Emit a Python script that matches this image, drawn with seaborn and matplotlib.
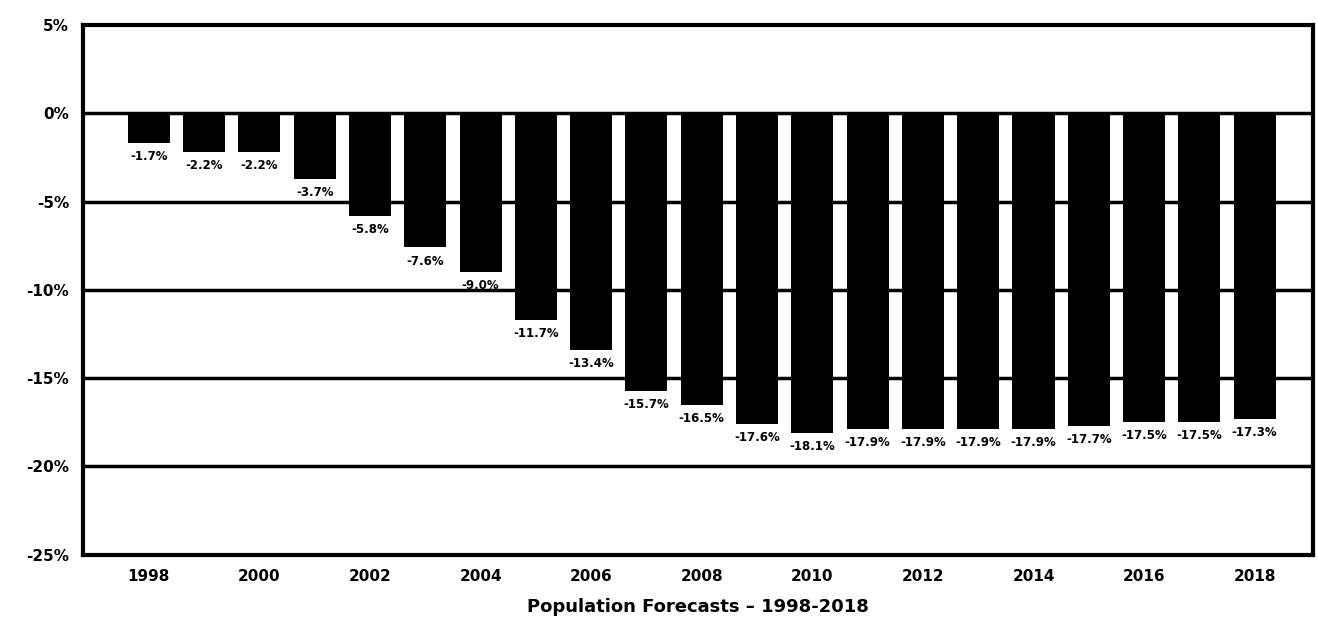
import matplotlib
matplotlib.use('Agg')
import matplotlib.pyplot as plt
import numpy as np
import pandas as pd
import seaborn as sns

years = [str(y) for y in range(1998, 2019)]
change = [-1.7, -2.2, -2.2, -3.7, -5.8, -7.6, -9.0, -11.7, -13.4, -15.7, -16.5,
          -17.6, -18.1, -17.9, -17.9, -17.9, -17.9, -17.7, -17.5, -17.5, -17.3]
ytick_vals = [5, 0, -5, -10, -15, -20, -25]
ytick_labels = ['5%', '0%', '-5%', '-10%', '-15%', '-20%', '-25%']

df = pd.DataFrame({'year': years, 'change': change})

sns.set_style('white')
plt.rcParams['font.family'] = ['DejaVu Sans']

fig = plt.figure(figsize=(13.18, 6.24), dpi=100)
ax = fig.add_axes([0.063, 0.111, 0.933, 0.849])

# black gridlines behind the bars
for v in ytick_vals[1:-1]:
    ax.axhline(v, color='black', lw=2.5, zorder=0)

sns.barplot(data=df, x='year', y='change', color='black', width=0.76,
            saturation=1, ax=ax, zorder=2, edgecolor='black', linewidth=0)

for i, v in enumerate(change):
    ax.text(i, v - 0.4, f'{v:.1f}%', ha='center', va='top', fontsize=8.5,
            fontweight='bold', color='black')

ax.set_ylim(-25, 5)
ax.set_yticks(ytick_vals)
ax.set_yticklabels(ytick_labels, fontsize=11, fontweight='bold', color='black')
ax.set_xticks(range(0, len(years), 2))
ax.set_xticklabels(years[::2], fontsize=11, fontweight='bold', color='black')
ax.set_xlim(-1.19, len(years) + 0.05)
ax.tick_params(axis='both', length=0, pad=10)
ax.set_ylabel('')
ax.set_xlabel('Population Forecasts \u2013 1998-2018', fontsize=13,
              fontweight='bold', labelpad=10, color='black')

for s in ax.spines.values():
    s.set_color('black')
    s.set_linewidth(3)
    s.set_visible(True)

fig.savefig('out.png', dpi=100, facecolor='white')
